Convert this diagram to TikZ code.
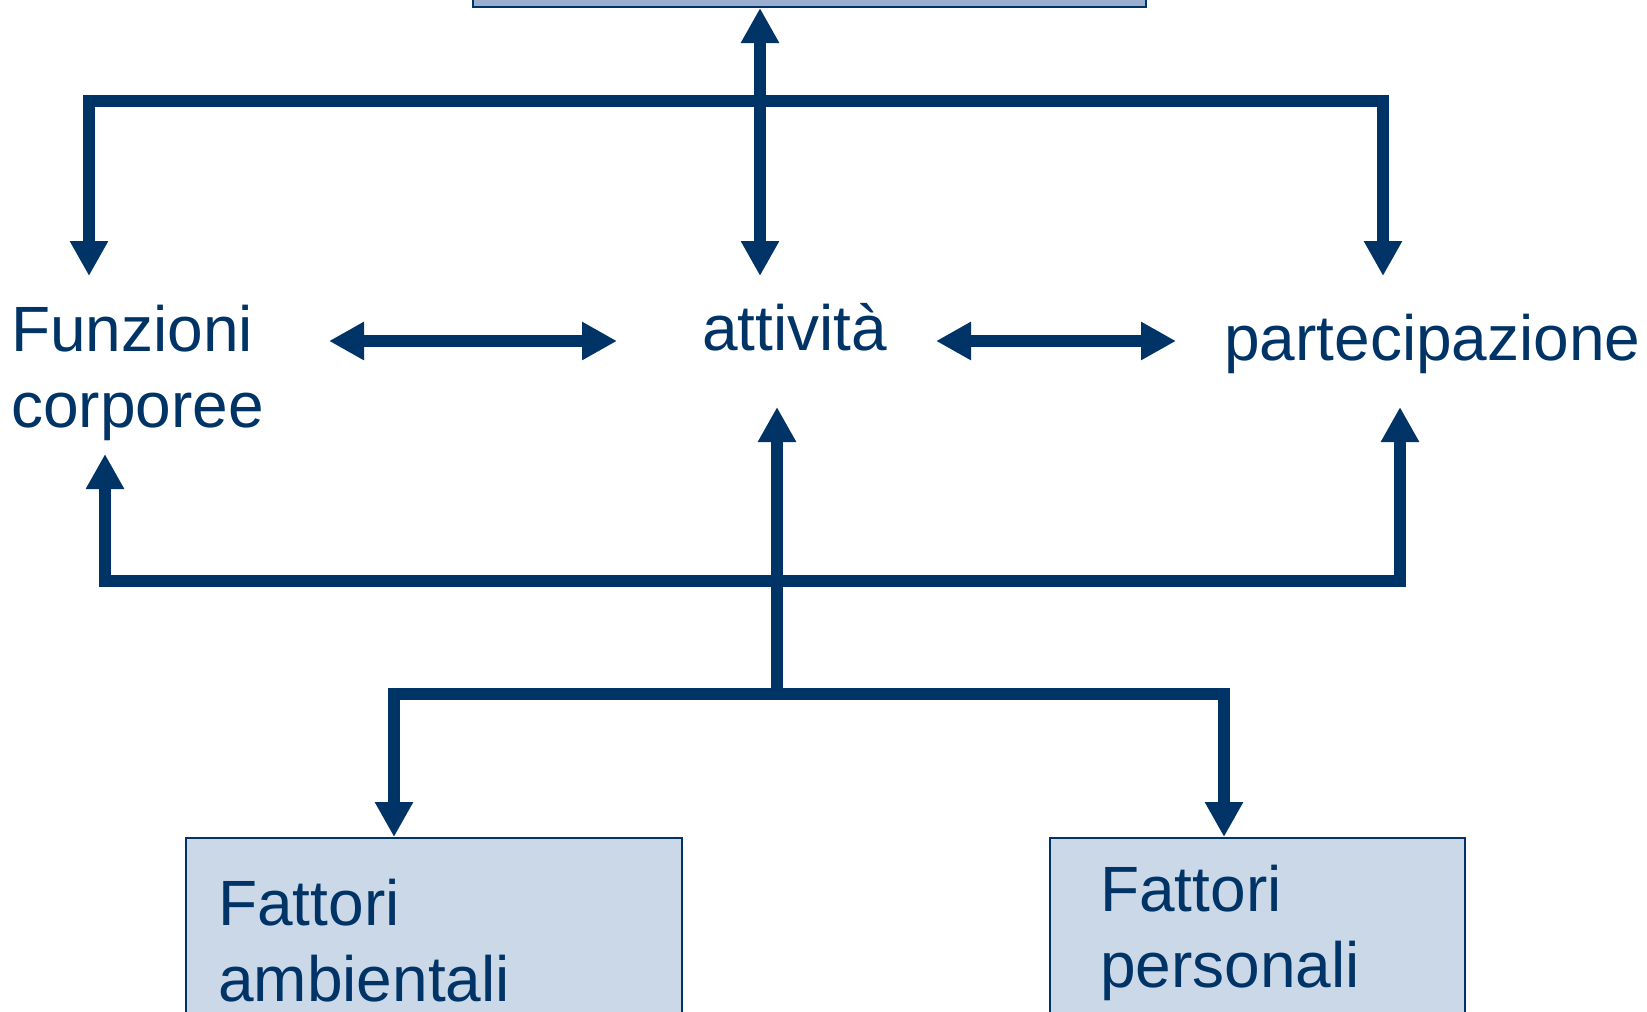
\documentclass[tikz,border=0pt]{standalone}
\usepackage{fontspec}
\setmainfont{Liberation Sans}
\usetikzlibrary{arrows.meta}
\definecolor{navy}{HTML}{003366}
\definecolor{topfill}{HTML}{9AAFD0}
\definecolor{boxfill}{HTML}{CBD8E8}
\tikzset{
  ln/.style={draw=navy, line width=11.5pt},
  arr/.style={ln, -{Triangle[length=35pt,width=36pt]}},
  dbl/.style={ln, {Triangle[length=35pt,width=36pt]}-{Triangle[length=35pt,width=36pt]}},
  txt/.style={text=navy, inner sep=0pt, align=left, font=\fontsize{64}{76}\selectfont},
  topbox/.style={draw=navy, line width=2pt, fill=topfill, inner sep=0pt},
  lowbox/.style={draw=navy, line width=2pt, fill=boxfill, inner sep=0pt, anchor=north west}
}
\begin{document}
\begin{tikzpicture}[x=1pt,y=-1pt]
\useasboundingbox (0,0) rectangle (1647,1012);
% boxes
\node[topbox, minimum width=673pt, minimum height=60pt, anchor=south west] (top) at (472,8) {};
\node[lowbox, minimum width=496pt, minimum height=220pt] (amb) at (185,837) {};
\node[lowbox, minimum width=415pt, minimum height=220pt] (pers) at (1049,837) {};
% texts (base anchor of a multi-line node = baseline of last line)
\node[txt, anchor=base west] (funz) at (11,427) {Funzioni\\corporee};
\node[txt, anchor=base west] (att) at (702,350) {attività};
\node[txt, anchor=base west] (part) at (1224,360) {partecipazione};
\node[txt, anchor=base west] (ambT) at (218,1001) {Fattori\\ambientali};
\node[txt, anchor=base west] (persT) at (1100,987) {Fattori\\personali};
% coordinates
\coordinate (hubT) at (760,101);
\coordinate (funzIn) at (89,276);
\coordinate (attIn) at (760,276);
\coordinate (partIn) at (1383,276);
\coordinate (fa1) at (329,341);
\coordinate (fa2) at (617,341);
\coordinate (ap1) at (936,341);
\coordinate (ap2) at (1176,341);
\coordinate (hubM) at (777,581);
\coordinate (funzUp) at (105,454);
\coordinate (attUp) at (777,407);
\coordinate (partUp) at (1400,407);
\coordinate (hubB) at (777,694);
\coordinate (ambIn) at (394,837);
\coordinate (persIn) at (1224,837);
% top connectors
\draw[dbl] (attIn) -- (attIn |- top.south);
\draw[arr] (hubT) -| (funzIn);
\draw[arr] (hubT) -| (partIn);
% horizontal double arrows
\draw[dbl] (fa1) -- (fa2);
\draw[dbl] (ap1) -- (ap2);
% bottom connectors
\draw[arr] (hubB) -- (attUp);
\draw[arr] (hubM) -| (funzUp);
\draw[arr] (hubM) -| (partUp);
\draw[arr] (hubB) -| (ambIn);
\draw[arr] (hubB) -| (persIn);
\end{tikzpicture}
\end{document}
